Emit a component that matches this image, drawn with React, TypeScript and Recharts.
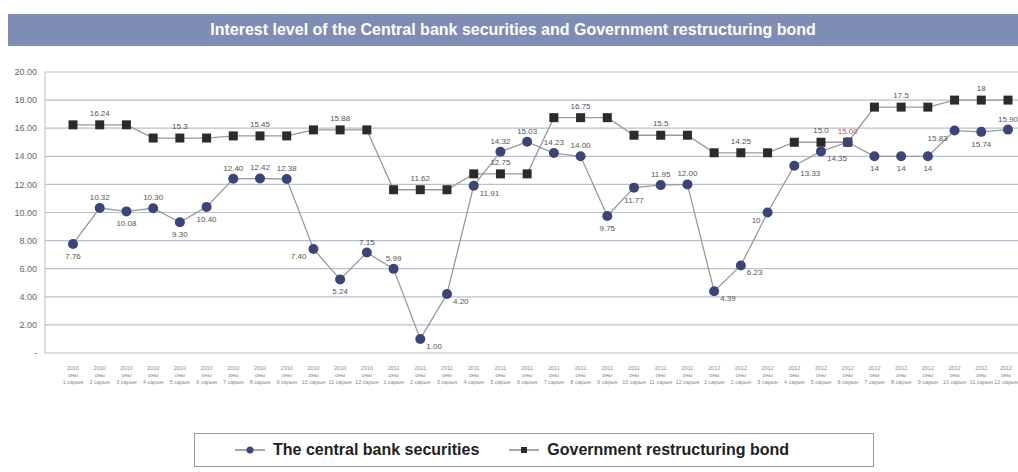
import { CartesianGrid, LineChart, Line, XAxis, YAxis, LabelList } from "recharts";

// x categories: year / word / month (tick text in the scan is barely legible)
const years = [
  "2010", "2010", "2010", "2010", "2010", "2010", "2010", "2010", "2010", "2010", "2010", "2010",
  "2011", "2011", "2011", "2011", "2011", "2011", "2011", "2011", "2011", "2011", "2011", "2011",
  "2012", "2012", "2012", "2012", "2012", "2012", "2012", "2012", "2012", "2012", "2012", "2012",
];
const months = [
  "1 сарын", "2 сарын", "3 сарын", "4 сарын", "5 сарын", "6 сарын", "7 сарын", "8 сарын", "9 сарын", "10 сарын", "11 сарын", "12 сарын",
  "1 сарын", "2 сарын", "3 сарын", "4 сарын", "5 сарын", "6 сарын", "7 сарын", "8 сарын", "9 сарын", "10 сарын", "11 сарын", "12 сарын",
  "1 сарын", "2 сарын", "3 сарын", "4 сарын", "5 сарын", "6 сарын", "7 сарын", "8 сарын", "9 сарын", "10 сарын", "11 сарын", "12 сарын",
];

const centralBank = [
  7.76, 10.32, 10.08, 10.3, 9.3, 10.4, 12.4, 12.42, 12.38, 7.4, 5.24, 7.15,
  5.99, 1.0, 4.2, 11.91, 14.32, 15.03, 14.23, 14.0, 9.75, 11.77, 11.95, 12.0,
  4.39, 6.23, 10, 13.33, 14.35, 15.0, 14, 14, 14, 15.83, 15.74, 15.9,
];
const centralText = [
  "7.76", "10.32", "10.08", "10.30", "9.30", "10.40", "12.40", "12.42", "12.38", "7.40", "5.24", "7.15",
  "5.99", "1.00", "4.20", "11.91", "14.32", "15.03", "14.23", "14.00", "9.75", "11.77", "11.95", "12.00",
  "4.39", "6.23", "10", "13.33", "14.35", "15.00", "14", "14", "14", "15.83", "15.74", "15.90",
];
const restructuringBond = [
  16.24, 16.24, 16.24, 15.3, 15.3, 15.3, 15.45, 15.45, 15.45, 15.88, 15.88, 15.88,
  11.62, 11.62, 11.62, 12.75, 12.75, 12.75, 16.75, 16.75, 16.75, 15.5, 15.5, 15.5,
  14.25, 14.25, 14.25, 15.0, 15.0, 15.0, 17.5, 17.5, 17.5, 18, 18, 18,
];
const bondText = ["16.24", "15.3", "15.45", "15.88", "11.62", "12.75", "16.75", "15.5", "14.25", "15.0", "17.5", "18"];

// where each central-bank label sits relative to its point
const centralLabelSide = [
  "b", "a", "b", "a", "b", "b", "a", "a", "a", "l", "b", "a",
  "a", "r", "r", "r", "a", "a", "a", "a", "b", "b", "a", "a",
  "r", "r", "l", "r", "r", "a", "b", "b", "b", "l", "b", "a",
];

const yTicks = [0, 2, 4, 6, 8, 10, 12, 14, 16, 18, 20];

const data = years.map((y, i) => ({
  name: `${y} ${months[i]}`,
  central: centralBank[i],
  bond: restructuringBond[i],
}));

const FONT = "'Liberation Sans', Arial, sans-serif";

const XTick = (props: any) => {
  const { x, y, index } = props;
  const last = index === years.length - 1;
  return (
    <g transform={`translate(${last ? x - 2 : x},${y + 4})`}>
      <text textAnchor="middle" fontSize={5.5} fill="#8a8a8a" fontFamily={FONT}>
        <tspan x={0} dy={5}>{years[index]}</tspan>
        <tspan x={0} dy={7}>оны</tspan>
        <tspan x={0} dy={7}>{months[index]}</tspan>
      </text>
    </g>
  );
};

const CentralLabel = (props: any) => {
  const { x, y, index } = props;
  const side = centralLabelSide[index];
  let dx = 0;
  let dy = 0;
  let anchor: "middle" | "start" | "end" = "middle";
  if (side === "a") dy = -8;
  if (side === "b") dy = 15;
  if (side === "r") { dx = 6; dy = 10; anchor = "start"; }
  if (side === "l") { dx = -7; dy = 10; anchor = "end"; }
  return (
    <text x={x + dx} y={y + dy} textAnchor={anchor} fontSize={8} fill={index === 29 ? "#c05a5a" : "#555"} fontFamily={FONT}>
      {centralText[index]}
    </text>
  );
};

const BondLabel = (props: any) => {
  const { x, y, index } = props;
  if (index % 3 !== 1) return null;
  return (
    <text x={x} y={y - 9} textAnchor="middle" fontSize={8} fill="#555" fontFamily={FONT}>
      {bondText[Math.floor(index / 3)]}
    </text>
  );
};

const SquareDot = (props: any) => {
  const { cx, cy } = props;
  if (cx == null || cy == null) return null;
  return <rect x={cx - 4.5} y={cy - 4.5} width={9} height={9} fill="#2b2b2b" />;
};

export default function App() {
  return (
    <div style={{ position: "absolute", left: 0, top: 0, width: 1018, height: 472, background: "#fff", fontFamily: FONT }}>
      <div
        style={{
          position: "absolute",
          left: 8,
          top: 14,
          width: 1010,
          height: 32,
          background: "#7f8cb4",
          color: "#fff",
          fontWeight: "bold",
          fontSize: 16,
          lineHeight: "32px",
          textAlign: "center",
          fontFamily: "'Liberation Sans Narrow', 'Liberation Sans', Arial, sans-serif",
        }}
      >
        Interest level of the Central bank securities and Government restructuring bond
      </div>
      <div style={{ position: "absolute", left: 0, top: 60 }}>
        <LineChart width={1018} height={412} data={data} margin={{ top: 12, right: 0, left: 5, bottom: 82 }}>
          <CartesianGrid vertical={false} stroke="#b3c2d6" strokeWidth={1.2} />
          <XAxis
            dataKey="name"
            scale="point"
            padding={{ left: 28, right: 10 }}
            interval={0}
            tick={<XTick />}
            tickLine={false}
            axisLine={false}
            height={37}
          />
          <YAxis
            domain={[0, 20]}
            ticks={yTicks}
            width={40}
            tickFormatter={(v: number) => (v === 0 ? "-" : v.toFixed(2))}
            tick={{ fontSize: 9, fill: "#666", fontFamily: FONT }}
            tickLine={false}
            axisLine={{ stroke: "#b3c2d6" }}
          />
          <Line
            dataKey="bond"
            stroke="#9a9a9a"
            strokeWidth={1.3}
            dot={<SquareDot />}
            isAnimationActive={false}
          >
            <LabelList dataKey="bond" content={<BondLabel />} />
          </Line>
          <Line
            dataKey="central"
            stroke="#9a9a9a"
            strokeWidth={1.3}
            dot={{ r: 5, fill: "#3b4577", stroke: "#3b4577", strokeWidth: 0 }}
            isAnimationActive={false}
          >
            <LabelList dataKey="central" content={<CentralLabel />} />
          </Line>
        </LineChart>
      </div>
      <div
        style={{
          position: "absolute",
          left: 194,
          top: 433,
          width: 680,
          height: 34,
          border: "1px solid #9a9a9a",
          boxSizing: "border-box",
          display: "flex",
          alignItems: "center",
          paddingLeft: 40,
          fontWeight: "bold",
          fontSize: 16,
          color: "#222",
        }}
      >
        <svg width={30} height={12} style={{ marginRight: 8 }}>
          <line x1={0} y1={6} x2={30} y2={6} stroke="#777" strokeWidth={1.3} />
          <circle cx={15} cy={6} r={3.5} fill="#3b4577" />
        </svg>
        <span>The central bank securities</span>
        <svg width={30} height={12} style={{ marginLeft: 30, marginRight: 8 }}>
          <line x1={0} y1={6} x2={30} y2={6} stroke="#777" strokeWidth={1.3} />
          <rect x={12} y={3} width={6} height={6} fill="#2b2b2b" />
        </svg>
        <span>Government restructuring bond</span>
      </div>
    </div>
  );
}
